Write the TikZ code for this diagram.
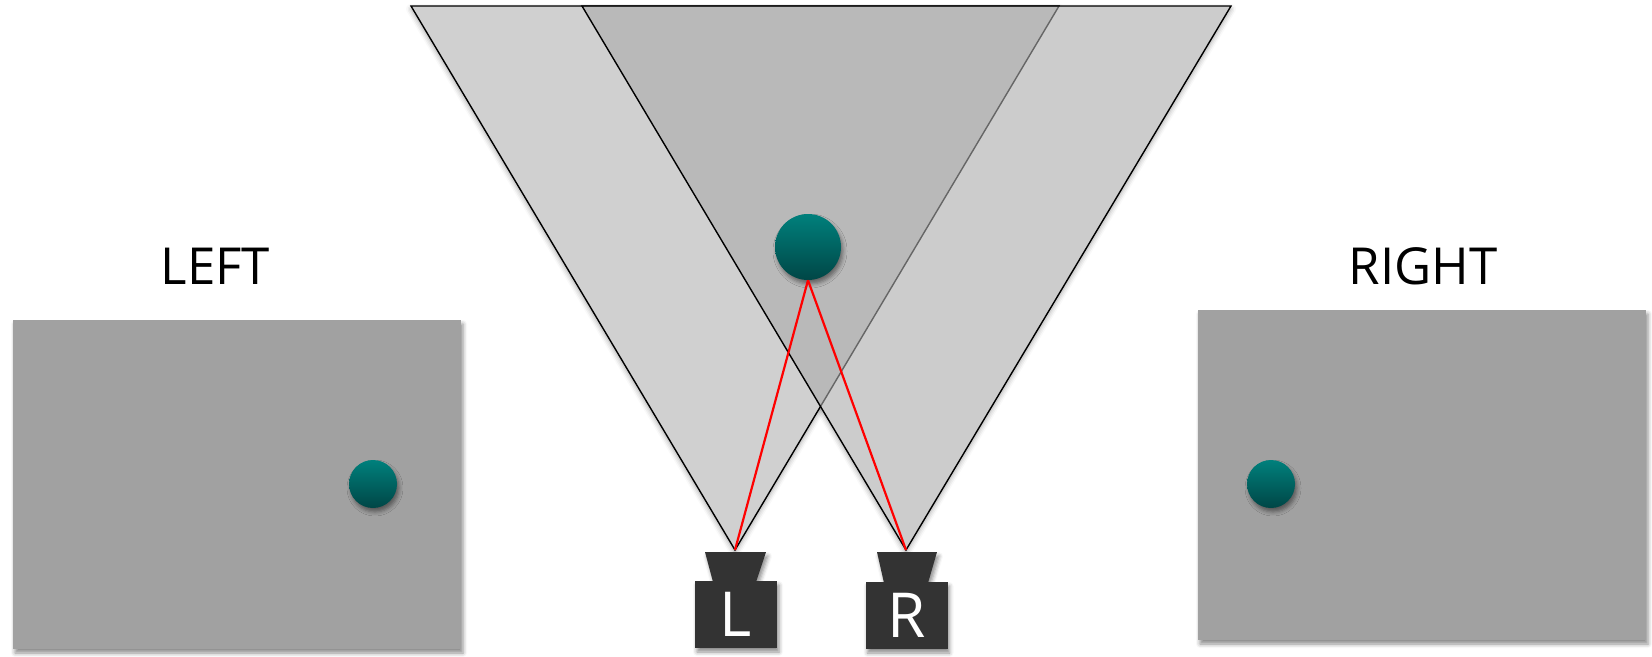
\documentclass[tikz,border=0pt]{standalone}
\usepackage{fontspec}
\setmainfont{Open Sans}
\usetikzlibrary{shadows.blur}

\definecolor{panelgray}{RGB}{161,161,161}
\definecolor{coneL}{RGB}{208,208,208}
\definecolor{coneR}{RGB}{170,170,170}
\definecolor{camgray}{RGB}{51,51,51}
\definecolor{balltop}{RGB}{0,128,124}
\definecolor{ballbot}{RGB}{0,70,70}

\tikzset{
  softshadow/.style={blur shadow={shadow xshift=2pt, shadow yshift=-4pt,
      shadow blur radius=4pt, shadow opacity=45}},
  coneshadow/.style={blur shadow={shadow xshift=0pt, shadow yshift=-3pt,
      shadow blur radius=5pt, shadow opacity=35}},
  panel/.style={rectangle, fill=panelgray, draw=none, inner sep=0pt,
      minimum width=448pt, softshadow},
  ball/.style={circle, inner sep=0pt, top color=balltop, bottom color=ballbot,
      draw=none, softshadow},
  cone/.style={draw=black, line width=1.4pt, line join=miter},
  ray/.style={draw=red, line width=2.2pt},
  cambody/.style={rectangle, fill=camgray, draw=none, inner sep=0pt,
      minimum width=82pt, minimum height=67pt, text=white,
      font=\fontsize{62}{70}\selectfont, softshadow},
  lens/.style={fill=camgray, draw=none, softshadow},
  title/.style={anchor=base, font=\fontsize{51}{60}\selectfont, text=black}
}

\begin{document}
\begin{tikzpicture}[x=1pt, y=-1pt]
  \useasboundingbox (0,0) rectangle (1652,656);

  % camera apexes
  \coordinate (Lapex) at (735,550);
  \coordinate (Rapex) at (906,550);

  % viewing cones: soft shadows kept outside the translucent right cone
  \begin{scope}[even odd rule]
    \clip (-10,-10) rectangle (1662,666)
      (582,6) -- (1231,6) -- (Rapex) -- cycle;
    \path[coneshadow] (411,6) -- (1059,6) -- (Lapex) -- cycle;
    \path[coneshadow] (582,6) -- (1231,6) -- (Rapex) -- cycle;
  \end{scope}
  \path[cone, fill=coneL] (411,6) -- (1059,6) -- (Lapex) -- cycle;
  \path[cone, fill=coneR, fill opacity=0.6] (582,6) -- (1231,6) -- (Rapex) -- cycle;

  % object in the scene
  \node[ball, minimum size=66pt] (obj) at (808,247) {};

  % rays from the object to the two cameras
  \draw[ray] (obj.south) -- (Lapex);
  \draw[ray] (obj.south) -- (Rapex);

  % cameras
  \path[lens] (705,552) -- (766,552) -- (756,582) -- (713,582) -- cycle;
  \node[cambody] (Lcam) at (736,614.5) {L};
  \path[lens] (877,552) -- (937,552) -- (928,583) -- (884,583) -- cycle;
  \node[cambody] (Rcam) at (906.5,615.5) {R};

  % left view
  \node[title] (lefttitle) at (215.5,284) {LEFT};
  \node[panel, minimum height=329pt] (leftview) at (237,484.5) {};
  \node[ball, minimum size=48pt] (leftobj) at (373,484) {};

  % right view
  \node[title] (righttitle) at (1423,284) {RIGHT};
  \node[panel, minimum height=330pt] (rightview) at (1422,475) {};
  \node[ball, minimum size=48pt] (rightobj) at (1271,484) {};
\end{tikzpicture}
\end{document}
